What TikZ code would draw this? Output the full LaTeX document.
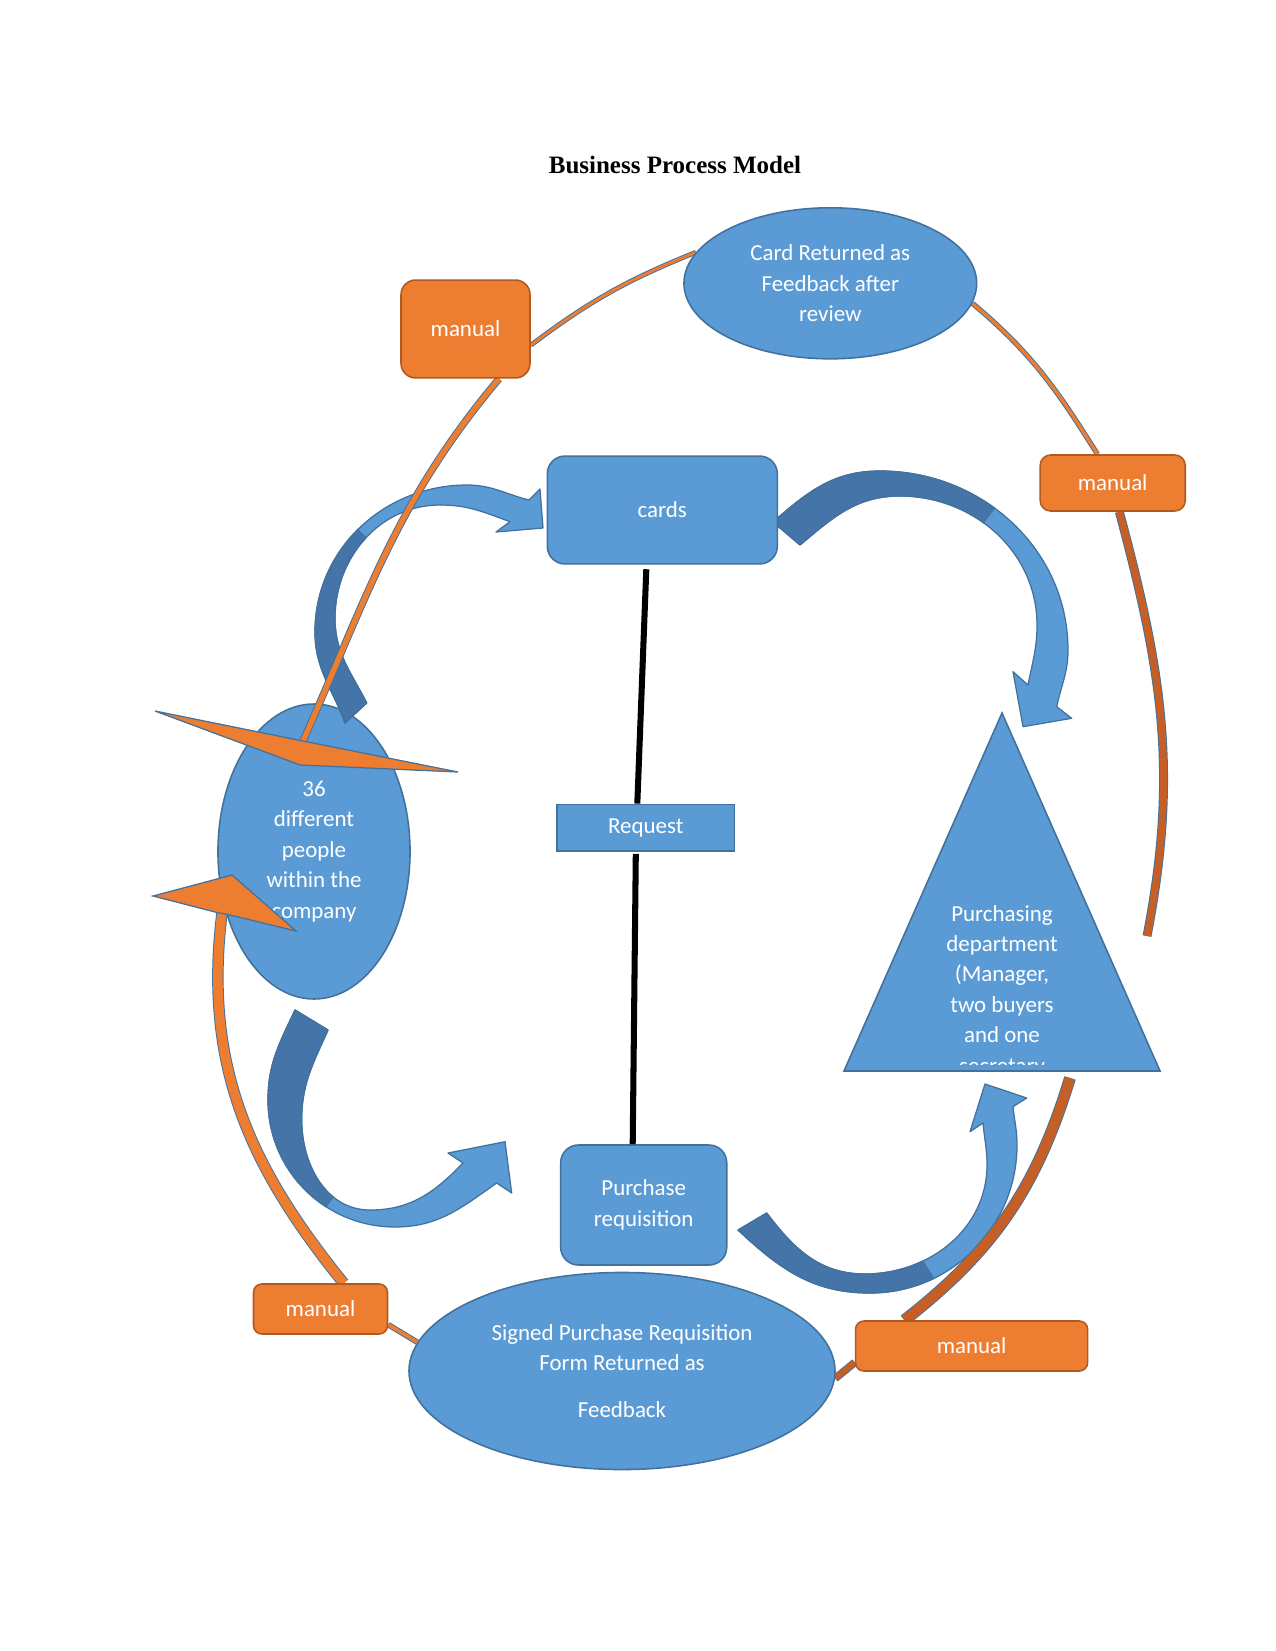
\documentclass[tikz,border=0pt]{standalone}
\usepackage{fontspec}
\setmainfont{Carlito}
\newfontfamily\titlefont{Liberation Serif}
\usetikzlibrary{shapes.geometric,calc}
\pgfdeclarelayer{background}
\pgfsetlayers{background,main}
\definecolor{blueF}{HTML}{5B9BD5}
\definecolor{blueL}{HTML}{41719C}
\definecolor{blueD}{HTML}{4474A8}
\definecolor{orangeF}{HTML}{ED7D31}
\definecolor{orangeL}{HTML}{AE5A21}
\definecolor{rust}{HTML}{C55F26}

\begin{document}
\begin{tikzpicture}[x=0.48pt, y=-0.48pt,
  every node/.style={font=\fontsize{11}{14.6}\selectfont, text=white, align=center, inner sep=0pt},
  blob/.style={ellipse, draw=blueL, fill=blueF, line width=0.75pt},
  tile/.style={rectangle, rounded corners=8.5pt, draw=blueL, fill=blueF, line width=0.75pt},
  tag/.style={rectangle, rounded corners=4pt, draw=orangeL, fill=orangeF, line width=0.75pt},
  link/.style={line width=2.9pt},
  wire/.style 2 args={draw=#1, line width=#2, preaction={draw=blueL, line width=#2+0.9pt}},
  bigarrow/.style={fill=blueF, draw=blueL, line width=0.6pt, line join=round},
  fold/.style={fill=blueD, draw=blueL, line width=0.6pt, line join=round},
  barb/.style={fill=orangeF, draw=blueL, line width=0.6pt}]
  \useasboundingbox (0,0) rectangle (1275,1651);

  \node[font=\titlefont\bfseries\fontsize{12}{14}\selectfont, text=black] (title) at (675,165) {Business Process Model};

  \node[blob, minimum width=140.5pt, minimum height=72.5pt] (cardfb) at (830.3,283.3) {Card Returned as\\Feedback after\\review};
  \node[tag, rounded corners=7pt, minimum width=61.9pt, minimum height=47pt] (manualA) at (465.5,329) {manual};
  \node[tag, rounded corners=5pt, minimum width=69.6pt, minimum height=26.9pt] (manualB) at (1112.7,483) {manual};
  \node[tile, minimum width=110.4pt, minimum height=51.8pt] (cards) at (662.3,510) {cards};
  \node[tile, sharp corners, minimum width=85pt, minimum height=22.4pt] (request) at (645.8,827.7) {Request};
  \node[tile, minimum width=79.7pt, minimum height=57.6pt] (preq) at (643.7,1205) {Purchase\\requisition};
  \node[blob, minimum width=204.5pt, minimum height=94.6pt] (signed) at (622,1371) {Signed Purchase Requisition\\Form Returned as\\[7.7pt]Feedback};
  \node[tag, minimum width=64.3pt, minimum height=24pt] (manualC) at (320.5,1309) {manual};
  \node[tag, minimum width=111.4pt, minimum height=24pt] (manualD) at (971.6,1346) {manual};

  \filldraw[fill=blueF, draw=blueL, line width=0.75pt] (1002,713) coordinate (apex) -- (844,1071) coordinate (baseL) -- (1160,1071) coordinate (baseR) -- cycle;
  \begin{scope}
    \clip (844,713) rectangle (1160,1064);
    \node (dept) at (1002,991) {Purchasing\\department\\(Manager,\\two buyers\\and one\\secretary};
  \end{scope}

  \draw[link] ($(cards.south)+(-16,4.5)$) -- ($(request.north)+(-8.5,0)$);
  \draw[link] ($(request.south)+(-10,2)$) -- ($(preq.north)+(-11,0)$);

  \begin{pgfonlayer}{background}
    \node[blob, minimum width=92.2pt, minimum height=141.6pt] (people) at (314,851.5) {36\\different\\people\\within the\\company};

    \def\arrowA{(345,723) to[out=110,in=-90] (315,632) to[out=90,in=180] (467,485) to[out=0,in=166] (529,500)
      -- (540,489) -- (543,528) -- (496,532) -- (510,521.7)
      to[out=160,in=0] (440,505) to[out=180,in=90] (335,618) to[out=-90,in=117] (366.7,703) -- cycle}
    \def\arrowB{(773,522) to[out=41,in=180] (880,471) to[out=0,in=90] (1068,650) to[out=-90,in=78] (1056.7,706.7)
      -- (1071.7,718.3) -- (1023,726.7) -- (1013,671.7) -- (1028,685)
      to[out=79,in=-90] (1037,625) to[out=90,in=0] (900,496) to[out=180,in=40] (800,545) -- cycle}
    \def\arrowC{(295,1010) to[out=245,in=90] (268,1100) to[out=-90,in=180] (395,1227) to[out=0,in=215] (496.7,1183)
      -- (511.7,1193) -- (505,1141.7) -- (448,1153) -- (463,1163)
      to[out=226,in=0] (370,1210) to[out=180,in=-90] (301.7,1120) to[out=90,in=246] (328,1030) -- cycle}
    \def\arrowD{(738,1230) to[out=-43,in=180] (870,1293) to[out=0,in=-90] (1017,1145) to[out=90,in=-84] (1013,1106.7)
      -- (1026.7,1098) -- (985,1084) -- (970,1131.7) -- (983,1123)
      to[out=-85,in=90] (987,1165) to[out=-90,in=0] (865,1274) to[out=180,in=-53] (766.7,1213) -- cycle}

    \filldraw[bigarrow] \arrowA;
    \begin{scope}
      \clip (250,506) -- (335,506) -- (395,566) -- (420,780) -- (250,780) -- cycle;
      \filldraw[fold] \arrowA;
    \end{scope}
    \filldraw[bigarrow] \arrowB;
    \begin{scope}
      \clip (740,430) -- (1054,430) -- (960,555) -- (740,600) -- cycle;
      \filldraw[fold] \arrowB;
    \end{scope}
    \filldraw[bigarrow] \arrowC;
    \begin{scope}
      \clip (230,990) -- (395,990) -- (391,1115) -- (294,1254) -- (230,1254) -- cycle;
      \filldraw[fold] \arrowC;
    \end{scope}
    \filldraw[bigarrow] \arrowD;
    \begin{scope}
      \clip (720,1190) -- (880,1190) -- (960,1320) -- (720,1320) -- cycle;
      \filldraw[fold] \arrowD;
    \end{scope}

    \coordinate (h1) at (303,741);
    \coordinate (h2) at (222,913);
    \coordinate (r3) at (1147,936);
    \coordinate (r4) at (1070,1078);
    \draw[wire={orangeF}{1.4pt}] (cardfb.167) to[out=-158,in=37] (manualA.-14);
    \draw[wire={orangeF}{2.6pt}] (manualA.-56) to[out=230,in=66] (h1);
    \filldraw[barb] (155,711) -- (h1) -- (458,772) -- (300,765) -- cycle;
    \draw[wire={orangeF}{4.6pt}] (manualC.48) to[out=129,in=-97] (h2);
    \filldraw[barb] (153,896) -- (232,875) -- (296,931) -- (230,915) -- (215,912) -- cycle;
    \draw[wire={orangeF}{1.8pt}] (manualC.-13) -- (signed.172);
    \draw[wire={orangeF}{1.6pt}] (cardfb.-8) to[out=-40,in=122] (manualB.118);
    \draw[wire={rust}{3.4pt}] (manualB.-77) to[out=-75,in=79] (r3);
    \draw[wire={rust}{4.8pt}] (r4) to[out=-107,in=38] (manualD.159);
    \draw[wire={rust}{2.8pt}] (manualD.188) -- (signed.-2);
  \end{pgfonlayer}
\end{tikzpicture}
\end{document}
